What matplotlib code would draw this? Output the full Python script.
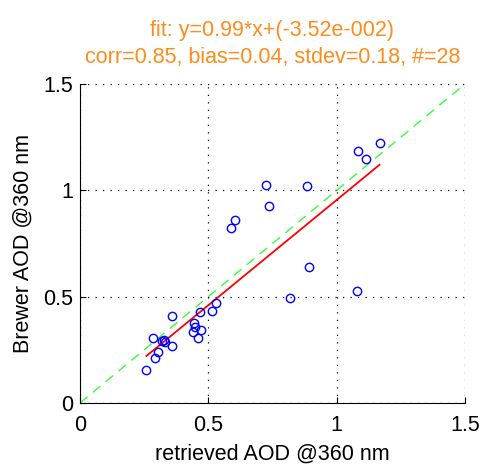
import matplotlib
matplotlib.use("Agg")
import matplotlib.pyplot as plt
import numpy as np

# retrieved vs Brewer AOD @360 nm
retrieved = [1.167, 1.085, 1.114, 0.725, 0.883, 0.735, 0.604, 0.589, 0.893, 0.817,
             1.079, 0.528, 0.516, 0.467, 0.358, 0.445, 0.449, 0.440, 0.472, 0.461,
             0.286, 0.327, 0.333, 0.358, 0.305, 0.293, 0.259, 0.321]
brewer = [1.224, 1.184, 1.148, 1.027, 1.019, 0.926, 0.860, 0.823, 0.639, 0.494,
          0.525, 0.472, 0.434, 0.426, 0.410, 0.374, 0.356, 0.334, 0.343, 0.304,
          0.304, 0.296, 0.285, 0.266, 0.238, 0.212, 0.154, 0.291]
fit_slope = 0.99
fit_offset = -3.52e-2
ticks = [0, 0.5, 1, 1.5]

plt.rcParams['font.family'] = ['Liberation Sans', 'DejaVu Sans']

fig = plt.figure(figsize=(4.81, 4.66), dpi=100)
ax = fig.add_axes([0.1663, 0.1352, 0.8004, 0.6845])

xx = np.array(retrieved)
yy = np.array(brewer)
xf = np.array([xx.min(), xx.max()])

ax.plot([0, 1.5], [0, 1.5], '--', color='#33ff33', lw=1, dashes=(7, 5), zorder=2)
ax.plot(xf, fit_slope * xf + fit_offset, '-', color='red', lw=1.3, zorder=3)
ax.plot(xx, yy, 'o', mfc='none', mec='blue', ms=6, mew=1.0, zorder=4)

ax.set_xlim(0, 1.5)
ax.set_ylim(0, 1.5)
ax.set_xticks(ticks)
ax.set_yticks(ticks)
ax.set_xticklabels(['0', '0.5', '1', '1.5'])
ax.set_yticklabels(['0', '0.5', '1', '1.5'])
ax.grid(True, color='black', linestyle=(0, (1, 5)), lw=0.9)
for s in ['top', 'right']:
    ax.spines[s].set_visible(False)
ax.tick_params(direction='in', length=4, labelsize=15.5, colors='black', pad=5)
ax.tick_params(axis='x', pad=9)
ax.set_xlabel('retrieved AOD @360 nm', fontsize=15.5, labelpad=5)
ax.set_ylabel('Brewer AOD @360 nm', fontsize=15.5, labelpad=7)
ax.set_title('fit: y=0.99*x+(-3.52e-002)\ncorr=0.85, bias=0.04, stdev=0.18, #=28',
             color='#ff8c1a', fontsize=15.5, pad=15, linespacing=1.4)

fig.savefig('out.png', dpi=100)
